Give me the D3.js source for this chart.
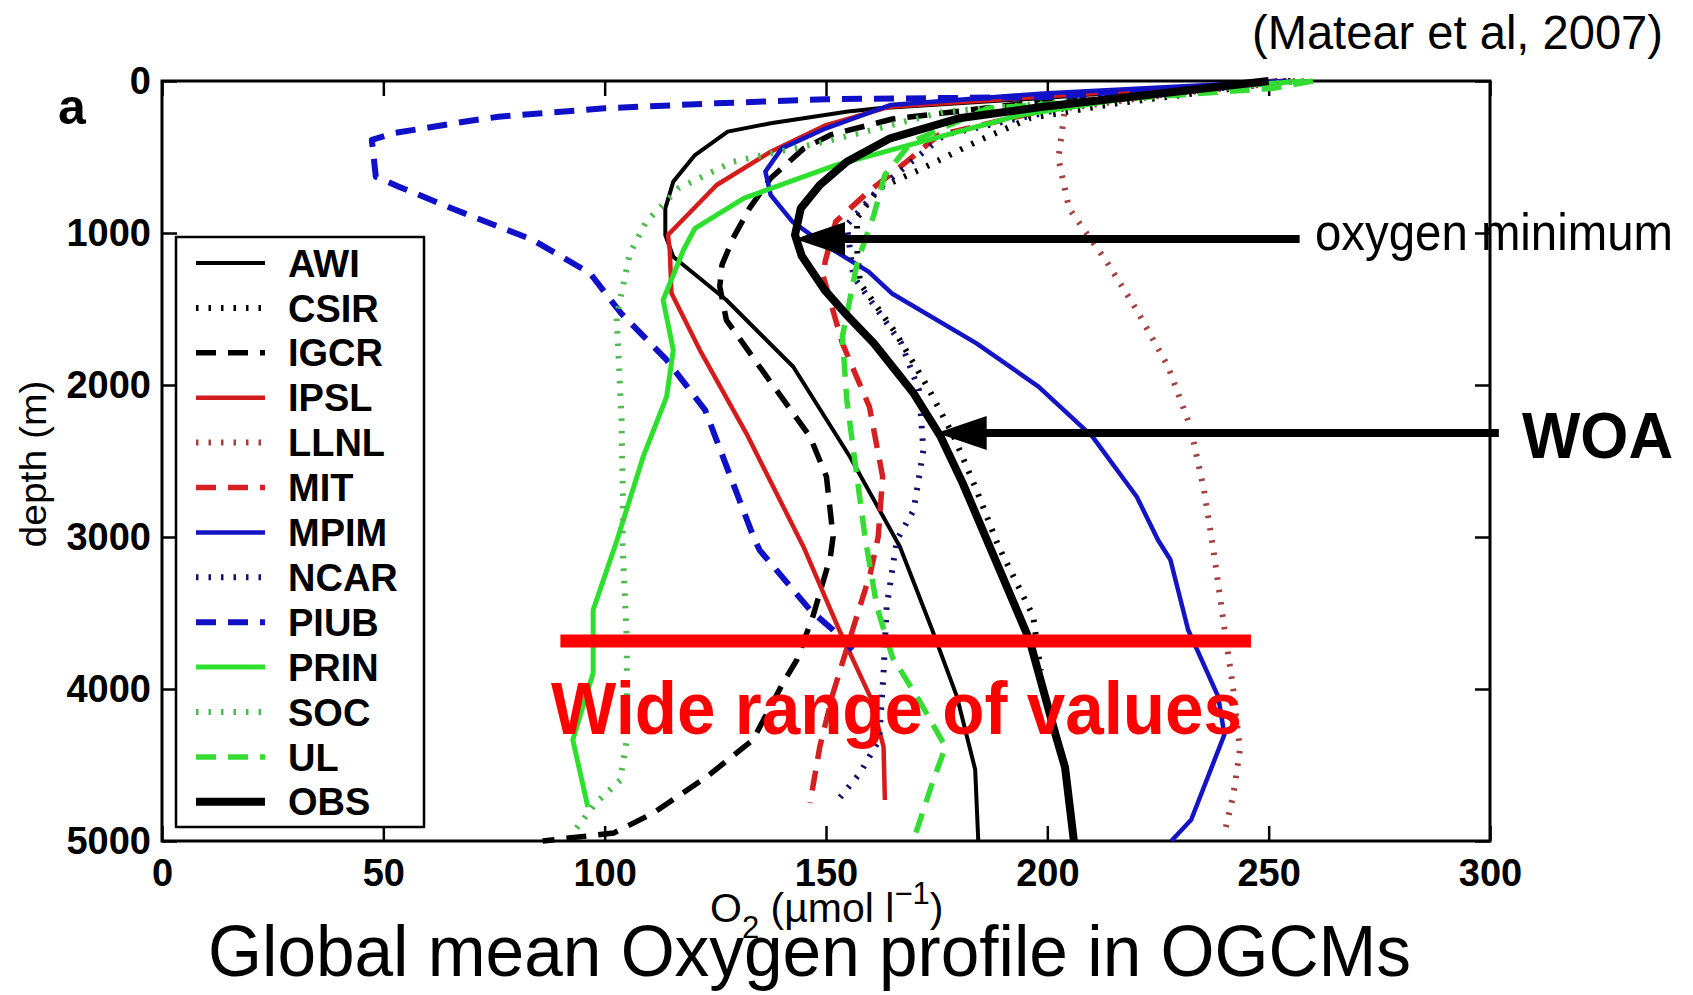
<!DOCTYPE html>
<html>
<head>
<meta charset="utf-8">
<script src="https://cdn.jsdelivr.net/npm/d3@7"></script>
<style>
    body { margin: 0; background: #fff; }
    svg { display: block; font-family: "Liberation Sans", Arial, Helvetica, sans-serif; }
</style>
</head>
<body>
<svg id="chart" width="1693" height="995"></svg>
<script>
// global mean O2 profiles, [O2 (umol/l), depth (m)]
var AWI = [[250,0],[200,110],[162,180],[155,200],[137.5,278],[127.8,333],[120.4,487],[115.5,662],[113.7,838],
    [113.7,1013],[115.5,1156],[127.5,1441],[142.6,1880],[155.4,2472],[166.7,3064],[174,3612],[179.6,4052],
    [183.7,4530],[184.4,5000]];
var CSIR = [[255,0],[215,150],[196,245],[184,399],[171.8,575],[162,706],[157,900],[157,1100],[157.7,1331],
    [165.8,1660],[172.9,2011],[178.9,2340],[184,2691],[189,3064],[196.8,3520],[198.5,3880]];
var IGCR = [[252,0],[200,130],[165,250],[151,355],[145,443],[137.5,640],[132.7,838],[129,1035],[126.5,1210],
    [126,1353],[127.5,1573],[136.6,1945],[146.4,2340],[150.1,2603],[151.6,2998],[151,3130],[147,3526],
    [143.4,3809],[140.3,3960],[133.5,4335],[123,4579],[111,4816],[102,4948],[86,5000]];
var IPSL = [[252,0],[200,100],[164.5,169],[150,290],[137.5,465],[125.3,684],[114.3,1013],[114.7,1112],
    [115.1,1397],[121.5,1770],[132,2318],[144.9,3064],[153,3612],[160,4052],[163,4380],[163.3,4730]];
var LLNL = [[256,0],[230,80],[204,180],[202.5,509],[204.9,838],[213.4,1189],[220.2,1507],[227.3,1880],
    [232.3,2274],[235.4,2691],[237.5,3080],[240,3600],[242,4000],[243.5,4400],[242,4700],[240,4950]];
var MIT = [[254,0],[210,120],[175.5,355],[168.2,531],[159.6,728],[152.2,925],[149.8,1189],[149.4,1287],
    [153.7,1726],[159.8,2143],[162.8,2603],[161.8,2998],[160,3240],[156,3612],[151.6,4026],[148.6,4380],
    [146.4,4750]];
var MPIM = [[254,0],[200,80],[164.5,158],[150,311],[140,443],[136.3,596],[137.5,750],[142.4,925],[149.8,1079],
    [159.6,1254],[165,1400],[184,1726],[198,2011],[210.2,2340],[220.2,2735],[225,3020],[227.8,3150],
    [231.8,3610],[238.6,4050],[240,4300],[232.5,4860],[228,5000]];
var NCAR = [[254,0],[210,140],[176.7,355],[162,706],[154.7,947],[156.2,1287],[167,1726],[171,2033],[172,2428],
    [169.8,2823],[166,3020],[163.7,3460],[163,3895],[162,4335],[157.7,4552],[153,4720]];
var PIUB = [[252,10],[200,105],[150,120],[125,147],[100,180],[76,235],[68.2,268],[52.6,342],[47.4,388],
    [48.3,630],[53.5,695],[66.4,849],[83.8,1046],[96.7,1265],[103.7,1528],[114,1835],[122.7,2165],[127,2494],
    [133.6,2998],[135,3086],[146.4,3480],[151.6,3612],[156,3743]];
var PRIN = [[258,0],[230,60],[193.9,224],[174.3,377],[152.2,553],[131.4,772],[120.4,969],[117.8,1112],
    [113.2,1441],[115.5,1770],[114,2077],[108.7,2472],[102.8,3020],[97.4,3480],[97.4,3895],[92.8,4335],
    [96.2,4776]];
var SOC = [[258,0],[215,110],[176.7,202],[149.8,399],[129,531],[116.7,706],[109.4,925],[105.7,1134],
    [102.7,1551],[103.8,2209],[104.2,2866],[104,3020],[105,3678],[105,4335],[103.5,4600],[98,4750],
    [92.8,4948]];
var UL = [[260,0],[251,48],[186.5,180],[169.4,399],[163.3,618],[160.8,882],[157.1,1189],[153.7,1682],
    [154.7,2099],[156.7,2538],[158.8,2998],[161.5,3460],[165,3790],[171,4073],[177,4380],[174,4620],
    [169.7,5000]];
var OBS = [[250,0],[223,90],[199,170],[180,245],[164.5,377],[154.7,531],[148.6,684],[144.3,838],[143,1013],
    [144.5,1150],[149.7,1375],[155,1550],[160.8,1726],[169.8,2055],[175.9,2340],[180.9,2647],[187,3064],
    [196,3680],[202,4315],[204,4515],[206,5000]];

var seriesNames = ['AWI', 'CSIR', 'IGCR', 'IPSL', 'LLNL', 'MIT', 'MPIM', 'NCAR', 'PIUB', 'PRIN', 'SOC', 'UL', 'OBS'];
var seriesData = [AWI, CSIR, IGCR, IPSL, LLNL, MIT, MPIM, NCAR, PIUB, PRIN, SOC, UL, OBS];

var o2Ticks = [0, 50, 100, 150, 200, 250, 300];
var depthTicks = [0, 1000, 2000, 3000, 4000, 5000];

// annotation anchors in data units [O2, depth]
var minArrow = [[257, 1039], [143, 1039]];
var woaArrow = [[302, 2316], [175, 2316]];
var rangeBar = [[90, 3684], [246, 3684]];

/** Class drawing the oxygen profile figure. */
class ProfileChart {
    constructor() {
        this.svg = d3.select('#chart');
        this.x = d3.scaleLinear().domain([0, 300]).range([162, 1490]);
        this.y = d3.scaleLinear().domain([0, 5000]).range([81, 841]);

        var solid = null, dash = '20,12', dot = '2.5,10';
        this.styles = {
            AWI:  {color: '#000000', width: 4, dash: solid},
            CSIR: {color: '#000000', width: 6, dash: dot},
            IGCR: {color: '#000000', width: 5.5, dash: dash},
            IPSL: {color: '#d41c1c', width: 4.5, dash: solid},
            LLNL: {color: '#a5403c', width: 6, dash: dot},
            MIT:  {color: '#d42020', width: 5.5, dash: dash},
            MPIM: {color: '#1414c4', width: 4.5, dash: solid},
            NCAR: {color: '#12126e', width: 6, dash: dot},
            PIUB: {color: '#1010c8', width: 6, dash: dash},
            PRIN: {color: '#2ee02e', width: 5, dash: solid},
            SOC:  {color: '#4cbc4c', width: 6, dash: dot},
            UL:   {color: '#34dc34', width: 5.5, dash: dash},
            OBS:  {color: '#000000', width: 8, dash: solid}
        };
    }

    /**
     * Axes box, inward ticks on all four sides, labels
     */
    drawAxes() {
        var x = this.x, y = this.y, svg = this.svg;
        var fmt = d3.format('d');

        svg.append('rect').attr('width', 1693).attr('height', 995).attr('fill', '#fff');

        var bottom = svg.append('g').attr('transform', 'translate(0,' + y(5000) + ')')
            .call(d3.axisBottom(x).tickValues(o2Ticks).tickFormat(fmt)
                .tickSizeInner(-15).tickSizeOuter(0).tickPadding(18));
        var left = svg.append('g').attr('transform', 'translate(' + x(0) + ',0)')
            .call(d3.axisLeft(y).tickValues(depthTicks).tickFormat(fmt)
                .tickSizeInner(-15).tickSizeOuter(0).tickPadding(11));
        var top = svg.append('g').attr('transform', 'translate(0,' + y(0) + ')')
            .call(d3.axisTop(x).tickValues(o2Ticks).tickSizeInner(-15).tickSizeOuter(0).tickFormat(''));
        var right = svg.append('g').attr('transform', 'translate(' + x(300) + ',0)')
            .call(d3.axisRight(y).tickValues(depthTicks).tickSizeInner(-15).tickSizeOuter(0).tickFormat(''));

        [bottom, left, top, right].forEach(function (g) {
            g.select('.domain').remove();
            g.selectAll('line').attr('stroke', '#000').attr('stroke-width', 2.5);
            g.selectAll('text').attr('font-size', 38).attr('font-weight', 'bold')
                .attr('fill', '#000').attr('font-family', '"Liberation Sans", Arial, sans-serif');
        });

        svg.append('rect')
            .attr('x', x(0)).attr('y', y(0))
            .attr('width', x(300) - x(0)).attr('height', y(5000) - y(0))
            .attr('fill', 'none').attr('stroke', '#000').attr('stroke-width', 3);

        svg.append('text').attr('x', 58).attr('y', 124)
            .attr('font-size', 50).attr('font-weight', 'bold').text('a');

        svg.append('text')
            .attr('transform', 'translate(46,464) rotate(-90)')
            .attr('text-anchor', 'middle').attr('font-size', 37)
            .attr('textLength', 167).attr('lengthAdjust', 'spacingAndGlyphs')
            .text('depth (m)');

        // O2 (umol l-1) with sub/superscripts
        var xl = svg.append('text').attr('x', 710).attr('y', 922).attr('font-size', 41);
        xl.append('tspan').text('O');
        xl.append('tspan').attr('dy', 16).attr('font-size', 31).text('2');
        xl.append('tspan').attr('dy', -16).text(' (\u00b5mol l');
        xl.append('tspan').attr('dy', -18).attr('font-size', 31).text('\u22121');
        xl.append('tspan').attr('dy', 18).text(')');
    }

    /**
     * One path per model profile, OBS last so it sits on top
     */
    drawLines() {
        var x = this.x, y = this.y, styles = this.styles;
        var line = d3.line().x(function (d) { return x(d[0]); }).y(function (d) { return y(d[1]); });

        this.svg.append('g').selectAll('.profile')
            .data(seriesNames)
            .enter()
            .append('path')
            .attr('class', 'profile')
            .attr('d', function (d, i) { return line(seriesData[i]); })
            .attr('fill', 'none')
            .attr('stroke', function (d) { return styles[d].color; })
            .attr('stroke-width', function (d) { return styles[d].width; })
            .attr('stroke-dasharray', function (d) { return styles[d].dash; })
            .attr('stroke-linejoin', 'round');
    }

    drawLegend() {
        var styles = this.styles;
        var lg = this.svg.append('g');
        lg.append('rect').attr('x', 176).attr('y', 237).attr('width', 248).attr('height', 590)
            .attr('fill', '#fff').attr('stroke', '#000').attr('stroke-width', 2.5);

        var rows = lg.selectAll('.entry')
            .data(seriesNames)
            .enter()
            .append('g')
            .attr('class', 'entry')
            .attr('transform', function (d, i) { return 'translate(0,' + (263 + i * 44.9) + ')'; });

        rows.append('line').attr('x1', 196).attr('x2', 265)
            .attr('stroke', function (d) { return styles[d].color; })
            .attr('stroke-width', function (d) { return styles[d].width; })
            .attr('stroke-dasharray', function (d) { return styles[d].dash; });
        rows.append('text').attr('x', 288).attr('dy', '0.36em')
            .attr('font-size', 38).attr('font-weight', 'bold')
            .text(function (d) { return d; });
    }

    /**
     * Slide annotations: arrows, red bar, captions
     */
    drawNotes() {
        var x = this.x, y = this.y, svg = this.svg;

        [minArrow, woaArrow].forEach(function (a) {
            var tx = x(a[1][0]), ty = y(a[1][1]), sx = x(a[0][0]);
            svg.append('line').attr('x1', sx).attr('x2', tx + 40).attr('y1', ty).attr('y2', ty)
                .attr('stroke', '#000').attr('stroke-width', 8);
            svg.append('path')
                .attr('d', 'M' + tx + ',' + ty + 'L' + (tx + 50) + ',' + (ty - 17) + 'L' + (tx + 50) + ',' + (ty + 17) + 'Z')
                .attr('fill', '#000');
        });

        svg.append('line')
            .attr('x1', x(rangeBar[0][0])).attr('x2', x(rangeBar[1][0]))
            .attr('y1', y(rangeBar[0][1])).attr('y2', y(rangeBar[1][1]))
            .attr('stroke', '#ff0000').attr('stroke-width', 13);

        svg.append('text').attr('x', 551).attr('y', 734)
            .attr('font-size', 74).attr('font-weight', 'bold').attr('fill', '#ff0000')
            .attr('textLength', 691).attr('lengthAdjust', 'spacingAndGlyphs')
            .text('Wide range of values');

        svg.append('text').attr('x', 1315).attr('y', 250)
            .attr('font-size', 52)
            .attr('textLength', 358).attr('lengthAdjust', 'spacingAndGlyphs')
            .text('oxygen minimum');

        svg.append('text').attr('x', 1522).attr('y', 458)
            .attr('font-size', 64).attr('font-weight', 'bold')
            .attr('textLength', 151).attr('lengthAdjust', 'spacingAndGlyphs')
            .text('WOA');

        svg.append('text').attr('x', 1663).attr('y', 49).attr('text-anchor', 'end')
            .attr('font-size', 48)
            .attr('textLength', 411).attr('lengthAdjust', 'spacingAndGlyphs')
            .text('(Matear et al, 2007)');

        svg.append('text').attr('x', 208).attr('y', 976)
            .attr('font-size', 72)
            .attr('textLength', 1203).attr('lengthAdjust', 'spacingAndGlyphs')
            .text('Global mean Oxygen profile in OGCMs');
    }
}

var chart = new ProfileChart();
chart.drawAxes();
chart.drawLines();
chart.drawLegend();
chart.drawNotes();
</script>
</body>
</html>
